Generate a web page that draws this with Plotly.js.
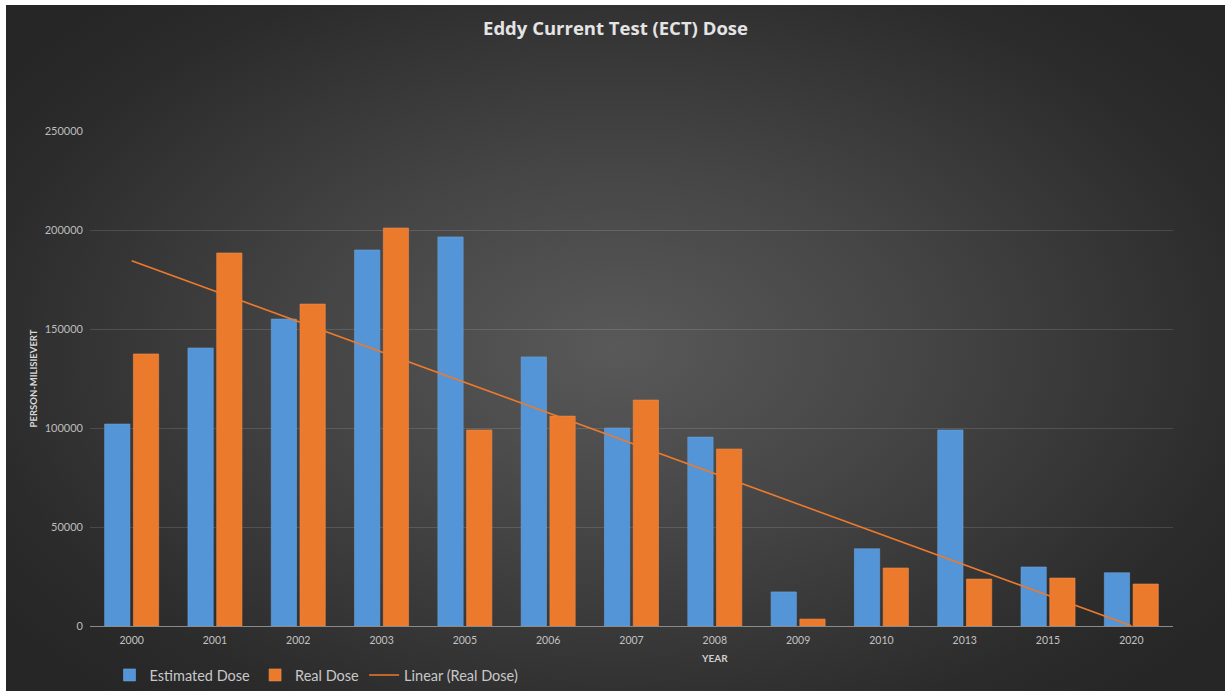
<!DOCTYPE html>
<html>
<head>
<meta charset="utf-8">
<script src="https://cdn.plot.ly/plotly-3.0.1.min.js"></script>
<style>
  html, body { margin: 0; padding: 0; background: #ffffff; width: 1225px; height: 691px; overflow: hidden; }
  #frame {
    position: absolute; left: 6px; top: 5px; width: 1219px; height: 686px;
    background: radial-gradient(ellipse 62% 68% at 50% 50%, #595959 0%, #454545 40%, #2b2b2b 85%, #262626 100%);
  }
  #chart { width: 1219px; height: 686px; }
</style>
</head>
<body>
<div id="frame"><div id="chart"></div></div>
<script>
// Yearly collective dose for eddy current testing (person-millisievert)
const years = ['2000', '2001', '2002', '2003', '2005', '2006', '2007', '2008', '2009', '2010', '2013', '2015', '2020'];
const estimatedDose = [102000, 140400, 155000, 189900, 196500, 135900, 100000, 95400, 17200, 39000, 99000, 29800, 26900];
const realDose = [137400, 188400, 162600, 201000, 99000, 106000, 114100, 89400, 3500, 29300, 23700, 24200, 21200];
const yTicks = [0, 50000, 100000, 150000, 200000, 250000];

// Least-squares linear trend of the real dose over the category positions 1..n
function linearTrend(values) {
  const n = values.length;
  const xs = values.map((_, i) => i + 1);
  const mx = xs.reduce((a, b) => a + b, 0) / n;
  const my = values.reduce((a, b) => a + b, 0) / n;
  let sxy = 0, sxx = 0;
  for (let i = 0; i < n; i++) {
    sxy += (xs[i] - mx) * (values[i] - my);
    sxx += (xs[i] - mx) * (xs[i] - mx);
  }
  const slope = sxy / sxx;
  return xs.map(x => my + slope * (x - mx));
}
const trend = linearTrend(realDose);

const BLUE = '#5495d7';
const ORANGE = '#ec7a2d';
const FONT = 'Lato, "Open Sans", sans-serif';
const W = 1219;
const H = 686;

const data = [
  { type: 'bar', name: 'Estimated Dose', x: years, y: estimatedDose,
    marker: { color: BLUE, line: { color: '#6aa5de', width: 0.6 } } },
  { type: 'bar', name: 'Real Dose', x: years, y: realDose,
    marker: { color: ORANGE, line: { color: '#f08c4c', width: 0.6 } } },
  { type: 'scatter', mode: 'lines', name: 'Linear (Real Dose)', x: years, y: trend,
    line: { color: ORANGE, width: 1.6 } }
];

const layout = {
  width: W, height: H,
  paper_bgcolor: 'rgba(0,0,0,0)',
  plot_bgcolor: 'rgba(0,0,0,0)',
  margin: { l: 84, r: 52, t: 126, b: 65, autoexpand: false },
  font: { family: FONT, color: '#bfbfbf' },
  title: {
    text: '<b>Eddy Current Test (ECT) Dose</b>',
    font: { family: '"Open Sans", sans-serif', size: 18.5, color: '#e4e4e4' },
    x: 0.5, xanchor: 'center', xref: 'container',
    y: 1 - 24 / H, yanchor: 'middle', yref: 'container'
  },
  barmode: 'group',
  bargap: 0.31,
  bargroupgap: 0.12,
  xaxis: {
    type: 'category',
    automargin: false,
    showgrid: false,
    showline: true, linecolor: '#8a8a8a', linewidth: 1.2,
    ticks: '', ticklabelstandoff: 4,
    tickfont: { family: FONT, size: 10.5, color: '#c2c2c2' },
    zeroline: false
  },
  yaxis: {
    range: [0, 250000],
    automargin: false,
    tickvals: yTicks,
    ticktext: yTicks.map(String),
    showgrid: true, gridcolor: 'rgba(255,255,255,0.13)', gridwidth: 1,
    zeroline: false, showline: false,
    ticks: '', ticklabelstandoff: 6,
    tickfont: { family: FONT, size: 11, color: '#bdbdbd' },
    title: { text: '<b>PERSON-MILISIEVERT</b>', font: { family: FONT, size: 9.5, color: '#d8d8d8' }, standoff: 5 }
  },
  // x-axis title, placed below the year labels
  annotations: [{
    text: '<b>YEAR</b>',
    xref: 'paper', x: (708 - 84) / (W - 84 - 52), xanchor: 'center',
    yref: 'paper', y: -(653 - 621) / (H - 126 - 65), yanchor: 'middle',
    showarrow: false,
    font: { family: FONT, size: 10, color: '#d0d0d0' }
  }],
  showlegend: true,
  legend: {
    orientation: 'h',
    x: 0.018, xanchor: 'left',
    yref: 'container',
    y: 1 - 670 / H, yanchor: 'middle',
    font: { family: FONT, size: 14.5, color: '#c8c8c8' },
    bgcolor: 'rgba(0,0,0,0)',
    itemwidth: 30,
    traceorder: 'normal'
  },
  hovermode: false
};

Plotly.newPlot('chart', data, layout, { staticPlot: true, displayModeBar: false });
</script>
</body>
</html>
